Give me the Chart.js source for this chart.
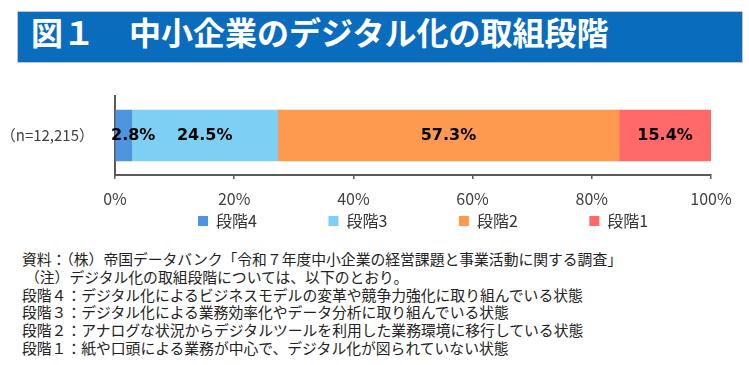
<!DOCTYPE html>
<html lang="ja">
<head>
<meta charset="utf-8">
<script src="https://cdn.jsdelivr.net/npm/chart.js@4/dist/chart.umd.min.js"></script>
<style>
  body { margin: 0; background: #fff; width: 749px; height: 365px; position: relative; overflow: hidden; font-family: "Noto Sans CJK JP", sans-serif; }
  .title { position: absolute; left: 17px; top: 11px; width: 726px; height: 52px; box-sizing: border-box; background: #0a6cbd; border: 1px solid #c4c4c4; color: #fff; font-weight: 700; font-size: 32px; line-height: 32px; padding: 3px 0 0 13px; white-space: nowrap; }
  .title span { margin-left: 34px; }
  .chart-box { position: absolute; left: 0; top: 66px; width: 749px; height: 173px; }
  .notes { position: absolute; left: 22px; top: 250px; font-size: 14.8px; line-height: 17.8px; color: #222; white-space: nowrap; }
</style>
</head>
<body>
<div class="title">図１<span>中小企業のデジタル化の取組段階</span></div>
<div class="chart-box"><canvas id="chart"></canvas></div>
<div class="notes">
  <div>資料：（株）帝国データバンク「令和７年度中小企業の経営課題と事業活動に関する調査」</div>
  <div style="padding-left:3px">（注）デジタル化の取組段階については、以下のとおり。</div>
  <div>段階４：デジタル化によるビジネスモデルの変革や競争力強化に取り組んでいる状態</div>
  <div>段階３：デジタル化による業務効率化やデータ分析に取り組んでいる状態</div>
  <div>段階２：アナログな状況からデジタルツールを利用した業務環境に移行している状態</div>
  <div>段階１：紙や口頭による業務が中心で、デジタル化が図られていない状態</div>
</div>
<script>
/* Data */

const categories = ['（n=12,215）']
const stages = ['段階4', '段階3', '段階2', '段階1']
const shares = [2.8, 24.5, 57.3, 15.4]
const colors = ['#4f94e0', '#7dcff3', '#fe9a4f', '#ff6969']
const xTicks = [0, 20, 40, 60, 80, 100]

// extra room after each legend text so the items spread out like the original
const legendTail = ['\u3000\u3000\u3000\u3000 ', '\u3000\u3000\u3000\u3000 ', '\u3000\u3000\u3000\u3000 ', '\u3000\u3000\u3000   ']

const axisColor = '#595959'
const textColor = '#404040'
const jpFont = '"Noto Sans CJK JP", sans-serif'

/* Labels inside the bar */

const segmentLabels = {
  id: 'segmentLabels',
  afterDatasetsDraw(chart) {
    const { ctx, chartArea } = chart
    ctx.save()
    ctx.font = 'bold 16px "DejaVu Sans"'
    ctx.fillStyle = '#000'
    ctx.textAlign = 'center'
    ctx.textBaseline = 'middle'
    chart.data.datasets.forEach((ds, i) => {
      chart.getDatasetMeta(i).data.forEach((bar, j) => {
        const text = ds.data[j].toFixed(1) + '%'
        const w = ctx.measureText(text).width
        // keep small segments' labels from running past the axis
        const x = Math.max((bar.x + bar.base) / 2, chartArea.left + w / 2 - 4)
        ctx.fillText(text, x, bar.y)
      })
    })
    ctx.restore()
  }
}

/* Chart */

const ctx = document.getElementById('chart').getContext('2d')

const datasets = stages.map((name, i) => ({
  label: name,
  data: [shares[i]],
  backgroundColor: colors[i],
  borderWidth: 0,
  barThickness: 51
}))

const stageChart = new Chart(ctx, {
  type: 'bar',
  data: { labels: categories, datasets },
  plugins: [segmentLabels],
  options: {
    indexAxis: 'y',
    responsive: true,
    maintainAspectRatio: false,
    animation: false,
    layout: { padding: { left: 0, right: 38, top: 7, bottom: 0 } },
    scales: {
      x: {
        stacked: true,
        min: 0,
        max: 100,
        afterBuildTicks: scale => { scale.ticks = xTicks.map(v => ({ value: v })) },
        afterFit: scale => { scale.height = 34 },
        ticks: {
          callback: v => v + '%',
          color: textColor,
          padding: 10,
          font: { family: jpFont, size: 16 }
        },
        grid: { drawOnChartArea: false, drawTicks: true, tickLength: 4, color: axisColor, lineWidth: 1.5 },
        border: { display: true, color: axisColor, width: 2 }
      },
      y: {
        stacked: true,
        afterFit: scale => { scale.width = 115 },
        ticks: {
          color: textColor,
          padding: 21,
          font: { family: jpFont, size: 15 }
        },
        grid: { display: false, drawTicks: false },
        border: { display: true, color: axisColor, width: 2 }
      }
    },
    plugins: {
      tooltip: { enabled: false },
      legend: {
        position: 'bottom',
        align: 'end',
        labels: {
          boxWidth: 10,
          boxHeight: 10,
          padding: 4,
          color: '#333',
          font: { family: jpFont, size: 16 },
          generateLabels: chart => Chart.defaults.plugins.legend.labels.generateLabels(chart)
            .map((item, i) => ({ ...item, text: item.text + legendTail[i], lineWidth: 0 }))
        }
      }
    }
  }
})
</script>
</body>
</html>
